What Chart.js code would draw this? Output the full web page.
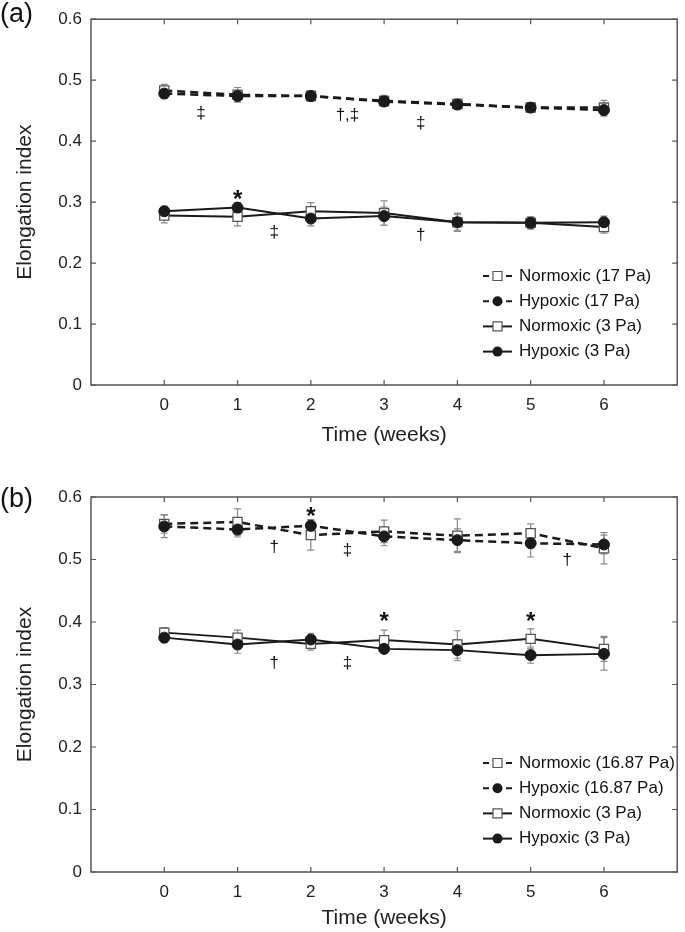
<!DOCTYPE html>
<html lang="en">
<head>
<meta charset="UTF-8">
<title>Elongation index over time</title>
<script src="https://cdn.jsdelivr.net/npm/chart.js"></script>
<style>
  body { margin: 0; background: #fff; }
  .panel { position: absolute; left: 0; width: 685px; height: 466px; }
  #panelA { top: 0; }
  #panelB { top: 466px; }
</style>
</head>
<body>
<div class="panel" id="panelA"><canvas id="chartA" width="685" height="466"></canvas></div>
<div class="panel" id="panelB"><canvas id="chartB" width="685" height="466"></canvas></div>
<script>
const weeks = [0, 1, 2, 3, 4, 5, 6];
const yTicks = [0, 0.1, 0.2, 0.3, 0.4, 0.5, 0.6];

// (a) means and SD
const aNormHigh    = [0.483, 0.476, 0.474, 0.466, 0.461, 0.455, 0.455];
const aNormHighErr = [0.010, 0.012, 0.009, 0.009, 0.008, 0.008, 0.012];
const aHypHigh     = [0.478, 0.474, 0.474, 0.465, 0.460, 0.455, 0.451];
const aHypHighErr  = [0.008, 0.008, 0.008, 0.008, 0.007, 0.008, 0.010];
const aNormLow     = [0.278, 0.276, 0.285, 0.282, 0.267, 0.266, 0.259];
const aNormLowErr  = [0.012, 0.015, 0.014, 0.020, 0.013, 0.010, 0.010];
const aHypLow      = [0.285, 0.291, 0.273, 0.277, 0.267, 0.266, 0.267];
const aHypLowErr   = [0.008, 0.008, 0.012, 0.015, 0.015, 0.010, 0.010];
const aLabels = ['Normoxic (17 Pa)', 'Hypoxic (17 Pa)', 'Normoxic (3 Pa)', 'Hypoxic (3 Pa)'];

// (b) means and SD
const bNormHigh    = [0.557, 0.560, 0.539, 0.545, 0.538, 0.542, 0.518];
const bNormHighErr = [0.015, 0.021, 0.024, 0.018, 0.027, 0.015, 0.025];
const bHypHigh     = [0.553, 0.548, 0.554, 0.537, 0.531, 0.526, 0.524];
const bHypHighErr  = [0.018, 0.012, 0.010, 0.015, 0.018, 0.022, 0.015];
const bNormLow     = [0.383, 0.375, 0.365, 0.371, 0.364, 0.373, 0.357];
const bNormLowErr  = [0.008, 0.012, 0.010, 0.016, 0.022, 0.016, 0.020];
const bHypLow      = [0.375, 0.364, 0.372, 0.357, 0.355, 0.347, 0.349];
const bHypLowErr   = [0.008, 0.014, 0.010, 0.005, 0.017, 0.013, 0.026];
const bLabels = ['Normoxic (16.87 Pa)', 'Hypoxic (16.87 Pa)', 'Normoxic (3 Pa)', 'Hypoxic (3 Pa)'];

// significance marks (x in weeks, y in index units)
const aMarkX    = [0.5, 2.5, 3.5, 1, 1.5, 3.5];
const aMarkY    = [0.446, 0.442, 0.429, 0.315, 0.250, 0.245];
const aMarkText = ['‡', '†,‡', '‡', '*', '‡', '†'];
const bMarkX    = [2, 1.5, 2.5, 5.5, 3, 5, 1.5, 2.5];
const bMarkY    = [0.579, 0.520, 0.514, 0.499, 0.410, 0.410, 0.334, 0.334];
const bMarkText = ['*', '†', '‡', '†', '*', '*', '†', '‡'];

const FONT = "'Liberation Sans', Arial, sans-serif";
const INK = '#1a1a1a';

function series(label, values, errs, hyp, dashed) {
  return {
    label: label,
    data: weeks.map((w, i) => ({ x: w, y: values[i] })),
    errs: errs,
    dashed: dashed,
    hyp: hyp,
    borderColor: INK,
    borderWidth: dashed ? 2.5 : 2,
    borderDash: dashed ? [8, 5] : [],
    pointStyle: hyp ? 'circle' : 'rect',
    pointRadius: hyp ? 5.5 : 6.5,
    pointBackgroundColor: hyp ? INK : '#fff',
    pointBorderColor: hyp ? INK : '#555',
    pointBorderWidth: hyp ? 1 : 1.3,
    tension: 0,
    fill: false,
    order: hyp ? 0 : 1
  };
}

// error bars under the lines
const errorBars = {
  id: 'errorBars',
  beforeDatasetsDraw(chart) {
    const { ctx, scales: { x, y } } = chart;
    ctx.save();
    ctx.strokeStyle = '#8a8a8a';
    ctx.lineWidth = 1.2;
    chart.data.datasets.forEach(ds => {
      ds.data.forEach((p, i) => {
        const px = x.getPixelForValue(p.x);
        const top = y.getPixelForValue(p.y + ds.errs[i]);
        const bot = y.getPixelForValue(p.y - ds.errs[i]);
        ctx.beginPath();
        ctx.moveTo(px, top); ctx.lineTo(px, bot);
        ctx.moveTo(px - 3.5, top); ctx.lineTo(px + 3.5, top);
        ctx.moveTo(px - 3.5, bot); ctx.lineTo(px + 3.5, bot);
        ctx.stroke();
      });
    });
    ctx.restore();
  }
};

// box frame with inward ticks on all four sides
const frame = {
  id: 'frame',
  afterDraw(chart) {
    const { ctx, chartArea: a, scales: { x, y } } = chart;
    ctx.save();
    ctx.strokeStyle = '#555';
    ctx.lineWidth = 1.5;
    ctx.strokeRect(a.left, a.top, a.right - a.left, a.bottom - a.top);
    ctx.lineWidth = 1.2;
    ctx.beginPath();
    weeks.forEach(w => {
      const px = x.getPixelForValue(w);
      ctx.moveTo(px, a.bottom); ctx.lineTo(px, a.bottom - 5);
      ctx.moveTo(px, a.top); ctx.lineTo(px, a.top + 5);
    });
    yTicks.forEach(v => {
      const py = y.getPixelForValue(v);
      ctx.moveTo(a.left, py); ctx.lineTo(a.left + 5, py);
      ctx.moveTo(a.right, py); ctx.lineTo(a.right - 5, py);
    });
    ctx.stroke();
    ctx.restore();
  }
};

// legend with line samples, tag and significance marks
const extras = {
  id: 'extras',
  afterDatasetsDraw(chart, args, opts) {
    const { ctx, scales: { x, y } } = chart;
    ctx.save();
    ctx.fillStyle = '#111';
    ctx.textAlign = 'center';
    ctx.textBaseline = 'middle';
    opts.markX.forEach((mx, i) => {
      const t = opts.markText[i];
      const px = x.getPixelForValue(mx);
      const py = y.getPixelForValue(opts.markY[i]);
      if (t === '*') {
        ctx.font = 'bold 24px ' + FONT;
        ctx.fillText(t, px, py + 7);
      } else {
        ctx.font = '17px ' + FONT;
        ctx.fillText(t, px, py);
      }
    });

    // legend
    const L = opts.legendLeft;
    chart.data.datasets.forEach((ds, i) => {
      const ly = opts.legendTop + i * opts.legendGap;
      ctx.strokeStyle = INK;
      ctx.lineWidth = 2;
      ctx.setLineDash([]);
      ctx.beginPath();
      if (ds.dashed) {
        ctx.moveTo(L, ly); ctx.lineTo(L + 6, ly);
        ctx.moveTo(L + 23, ly); ctx.lineTo(L + 29, ly);
      } else {
        ctx.moveTo(L, ly); ctx.lineTo(L + 29, ly);
      }
      ctx.stroke();
      const cx = L + 14.5;
      ctx.beginPath();
      if (ds.hyp) {
        ctx.fillStyle = INK;
        ctx.arc(cx, ly, 5, 0, Math.PI * 2);
        ctx.fill();
      } else {
        ctx.fillStyle = '#fff';
        ctx.strokeStyle = '#555';
        ctx.lineWidth = 1.2;
        ctx.rect(cx - 4.5, ly - 4.5, 9, 9);
        ctx.fill();
        ctx.stroke();
      }
      ctx.fillStyle = '#111';
      ctx.font = '17px ' + FONT;
      ctx.textAlign = 'left';
      ctx.fillText(ds.label, L + 36, ly);
    });

    // panel tag
    ctx.font = '27px ' + FONT;
    ctx.textAlign = 'left';
    ctx.fillStyle = '#111';
    ctx.fillText(opts.tag, 0, opts.tagY);
    ctx.restore();
  }
};

function makeChart(id, labels, vals, marks, layout) {
  const datasets = [
    series(labels[0], vals[0], vals[1], false, true),
    series(labels[1], vals[2], vals[3], true, true),
    series(labels[2], vals[4], vals[5], false, false),
    series(labels[3], vals[6], vals[7], true, false)
  ];
  return new Chart(document.getElementById(id), {
    type: 'line',
    data: { datasets: datasets },
    plugins: [errorBars, frame, extras],
    options: {
      responsive: false,
      animation: false,
      events: [],
      layout: { padding: { top: layout.top, right: 4, left: 0, bottom: 0 } },
      plugins: {
        legend: { display: false },
        tooltip: { enabled: false },
        extras: {
          markX: marks[0], markY: marks[1], markText: marks[2],
          legendLeft: 483, legendTop: layout.legendTop, legendGap: 25.2,
          tag: layout.tag, tagY: layout.tagY
        }
      },
      scales: {
        x: {
          type: 'linear',
          min: -1, max: 7,
          afterBuildTicks: s => { s.ticks = weeks.map(v => ({ value: v })); },
          afterFit: s => { s.height = layout.xHeight; },
          grid: { display: false, drawTicks: false },
          border: { display: false },
          ticks: { padding: 10, color: '#222', font: { family: FONT, size: 17 } },
          title: {
            display: true, text: 'Time (weeks)', color: '#222',
            font: { family: FONT, size: 21 },
            padding: { top: 0, bottom: layout.titlePad }
          }
        },
        y: {
          type: 'linear',
          min: 0, max: 0.6,
          afterBuildTicks: s => { s.ticks = yTicks.map(v => ({ value: v })); },
          afterFit: s => { s.width = 91; },
          grid: { display: false, drawTicks: false },
          border: { display: false },
          ticks: {
            padding: 9, color: '#222', font: { family: FONT, size: 17 },
            callback: v => v === 0 ? '0' : v.toFixed(1)
          },
          title: {
            display: true, text: 'Elongation index', color: '#222',
            font: { family: FONT, size: 21 },
            padding: { top: 13, bottom: 0 }
          }
        }
      }
    }
  });
}

makeChart('chartA', aLabels,
  [aNormHigh, aNormHighErr, aHypHigh, aHypHighErr, aNormLow, aNormLowErr, aHypLow, aHypLowErr],
  [aMarkX, aMarkY, aMarkText],
  { top: 10, xHeight: 81, titlePad: 18, legendTop: 276, tag: '(a)', tagY: 15 });

makeChart('chartB', bLabels,
  [bNormHigh, bNormHighErr, bHypHigh, bHypHighErr, bNormLow, bNormLowErr, bHypLow, bHypLowErr],
  [bMarkX, bMarkY, bMarkText],
  { top: 31, xHeight: 60, titlePad: 1.5, legendTop: 297, tag: '(b)', tagY: 34 });
</script>
</body>
</html>
